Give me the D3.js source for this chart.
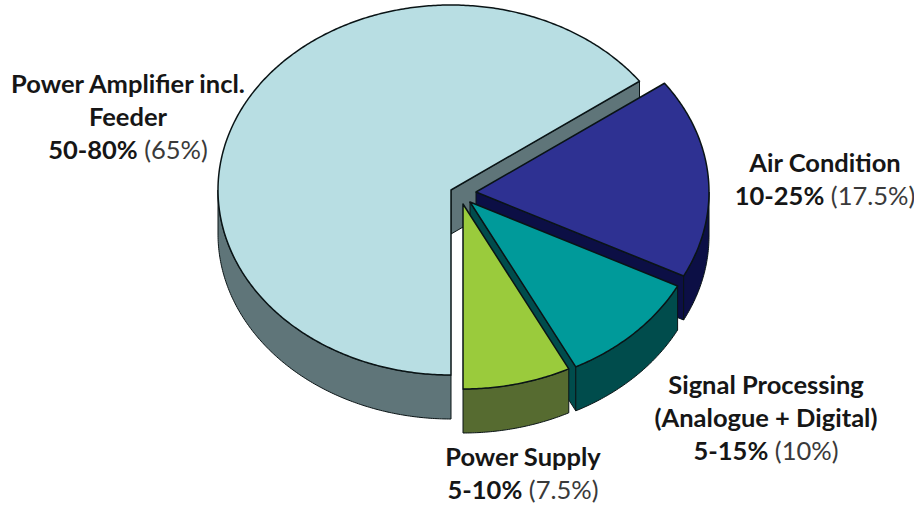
<!DOCTYPE html>
<html>
<head>
<meta charset="utf-8">
<script src="https://cdn.jsdelivr.net/npm/d3@7"></script>
<style>
html, body { margin: 0; background: #fff; }
svg { display: block; }
text { font-family: Lato, "Open Sans", sans-serif; font-size: 25.5px; text-anchor: middle; }
.b { font-weight: 700; fill: #161616; }
.n { font-weight: 400; fill: #3a3a3a; }
</style>
</head>
<body>
<script>
// pie order, clockwise from the 54 degree start
var names = ["Air Condition", "Signal Processing", "Power Supply", "Power Amplifier incl."];
var shares = [17.5, 10, 7.5, 65];
var ranges = ["10-25%", "5-15%", "5-10%", "50-80%"];
var shareLabels = ["(17.5%)", "(10%)", "(7.5%)", "(65%)"];
var extraLines = ["", "(Analogue + Digital)", "", "Feeder"];

var topColors = ["#2e3192", "#009a9a", "#9acb3c", "#b8dee3"];
var sideColors = ["#0c0f45", "#004c4c", "#566b30", "#5f7579"];

// apex of each slice after the explode
var apex = [[476, 192], [470, 202], [463, 204], [451, 190]];
// where the label block sits: centre x, first baseline
var labelPos = [[825, 172], [766, 394], [523, 466], [128, 93]];
var lineGap = 33;

var W = 914, H = 506, rx = 233, ry = 185, depth = 44;

var svg = d3.select("body").append("svg").attr("width", W).attr("height", H);

var pie = d3.pie().sort(null).value(function (d) { return d; })
    .startAngle(54 * Math.PI / 180)
    .endAngle((54 + 360) * Math.PI / 180);
var slices = pie(shares);

// x/y scales turn the unit circle into the tilted ellipse
var sx = d3.scaleLinear().domain([-1, 1]).range([-rx, rx]);
var sy = d3.scaleLinear().domain([-1, 1]).range([-ry, ry]);

function rim(i, a, dy) {
    return [apex[i][0] + sx(Math.sin(a)), apex[i][1] + sy(-Math.cos(a)) + dy];
}
function rimAngles(a0, a1) {
    var n = Math.max(2, Math.ceil(Math.abs(a1 - a0) / 0.01)), out = [];
    for (var k = 0; k <= n; k++) out.push(a0 + (a1 - a0) * k / n);
    return out;
}

var line = d3.line();

function draw(pts, fill, width) {
    svg.append("path")
        .attr("d", line(pts) + "Z")
        .attr("fill", fill)
        .attr("stroke", "#0a1416")
        .attr("stroke-width", width)
        .attr("stroke-linejoin", "round");
}

// painter's order: big slice first, then back to front
[3, 0, 1, 2].forEach(function (i) {
    var s = slices[i], a0 = s.startAngle, a1 = s.endAngle;
    var c = apex[i];

    // cut face at the clockwise end; the power supply one is edge on
    if (i != 2) {
        draw([c, rim(i, a1, 0), rim(i, a1, depth), [c[0], c[1] + depth]], sideColors[i], 1);
    }

    // outer wall, lower half of the ellipse only
    var from = Math.max(a0, Math.PI / 2), to = Math.min(a1, Math.PI * 1.5);
    var top = rimAngles(from, to).map(function (a) { return rim(i, a, 0); });
    var bottom = rimAngles(to, from).map(function (a) { return rim(i, a, depth); });
    draw(top.concat(bottom), sideColors[i], 1);

    // top face
    var face = rimAngles(a0, a1).map(function (a) { return rim(i, a, 0); });
    draw([c].concat(face), topColors[i], 1.5);
});

// labels
names.forEach(function (name, i) {
    var x = labelPos[i][0], y = labelPos[i][1];
    svg.append("text").attr("class", "b").attr("x", x).attr("y", y).text(name);
    if (extraLines[i]) {
        y += lineGap;
        svg.append("text").attr("class", "b").attr("x", x).attr("y", y).text(extraLines[i]);
    }
    y += lineGap;
    var t = svg.append("text").attr("x", x).attr("y", y);
    t.append("tspan").attr("class", "b").text(ranges[i]);
    t.append("tspan").attr("class", "n").text(" " + shareLabels[i]);
});
</script>
</body>
</html>
